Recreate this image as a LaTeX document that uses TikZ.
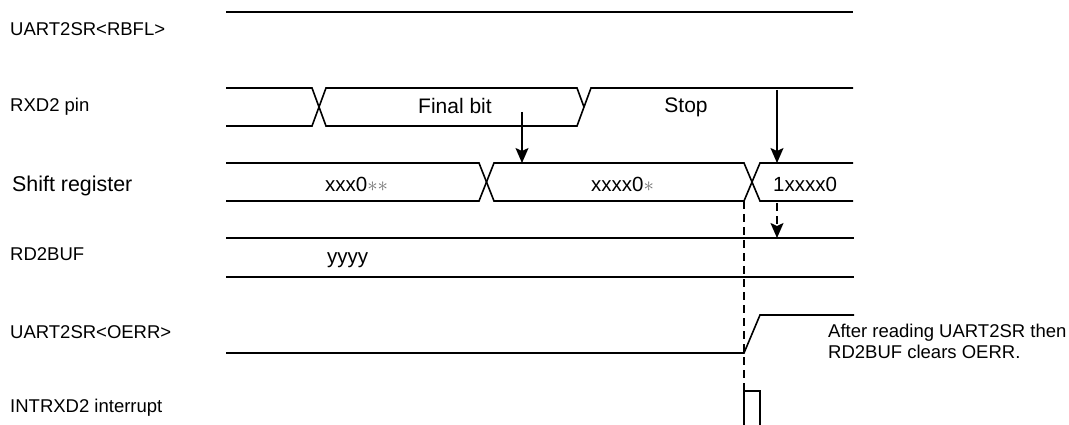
\documentclass[tikz,border=0pt]{standalone}
\usepackage{fontspec}
\setmainfont{Liberation Sans}
\usetikzlibrary{arrows.meta}

\begin{document}
\begin{tikzpicture}[
  x=1pt, y=-1pt,
  font=\fontsize{18.5}{21}\selectfont,
  every node/.style={inner sep=0pt},
  sig/.style={line width=1.6pt, line join=miter},
  guide/.style={line width=1.4pt, dash pattern=on 8pt off 5pt},
  lbl/.style={anchor=base west},
  val/.style={anchor=base west, font=\fontsize{20.5}{24}\selectfont},
  arr/.style={line width=1.6pt, -{Stealth[length=15pt,width=13pt,inset=3pt]}},
  dasharr/.style={arr, dash pattern=on 8pt off 5pt},
]
\useasboundingbox (0,0) rectangle (1069,425);

% ── Row y-positions (top / bottom of each trace) ───────────────────
\def\yRb{12}
\def\yRxT{88}   \def\yRxB{126}
\def\ySrT{163}  \def\ySrB{201}
\def\yBfT{238}  \def\yBfB{277}
\def\yOeH{315}  \def\yOeL{353}
\def\yIntT{391} \def\yIntB{425}

% ── Column x-positions ─────────────────────────────────────────────
\def\xL{226}
\def\xR{853}
\def\xE{744}   % end of stop bit, overrun point
\def\xF{760}

% ── Signal names (left column) ─────────────────────────────────────
\node[lbl] (nRbfl) at (10,36)  {UART2SR<RBFL>};
\node[lbl] (nRxd)  at (10,112) {RXD2 pin};
\node[lbl, font=\fontsize{21.4}{24}\selectfont] (nShift) at (12,192) {Shift register};
\node[lbl] (nBuf)  at (10,260) {RD2BUF};
\node[lbl] (nOerr) at (10,338) {UART2SR<OERR>};
\node[lbl] (nInt)  at (10,412) {INTRXD2 interrupt};

% ── UART2SR<RBFL> ──────────────────────────────────────────────────
\draw[sig] (\xL,\yRb) -- (\xR,\yRb);

% ── RXD2 pin ───────────────────────────────────────────────────────
\draw[sig] (\xL,\yRxT) -- (312,\yRxT) -- (326,\yRxB) -- (577,\yRxB)
  -- (591,\yRxT) -- (\xR,\yRxT);
\draw[sig] (\xL,\yRxB) -- (312,\yRxB) -- (326,\yRxT) -- (577,\yRxT)
  -- (584,107);
\node[anchor=base, font=\fontsize{21}{24}\selectfont] (tFinal) at (455,114) {Final bit};
\node[anchor=base, font=\fontsize{21}{24}\selectfont] (tStop)  at (686,113) {Stop};

% ── Shift register ─────────────────────────────────────────────────
\draw[sig] (\xL,\ySrT) -- (479,\ySrT) -- (494,\ySrB) -- (\xE,\ySrB)
  -- (\xF,\ySrT) -- (\xR,\ySrT);
\draw[sig] (\xL,\ySrB) -- (479,\ySrB) -- (494,\ySrT) -- (\xE,\ySrT)
  -- (\xF,\ySrB) -- (\xR,\ySrB);
\node[val] (sOld)  at (325,192) {xxx0{\color{black!55}$\ast\ast$}};
\node[val] (sMid)  at (591,192) {xxxx0{\color{black!55}$\ast$}};
\node[val] (sNew)  at (773,192) {1xxxx0};

% ── RD2BUF ─────────────────────────────────────────────────────────
\draw[sig] (\xL,\yBfT) -- (854,\yBfT);
\draw[sig] (\xL,\yBfB) -- (854,\yBfB);
\node[val] (bOld) at (327,263) {yyyy};

% ── UART2SR<OERR> ──────────────────────────────────────────────────
\draw[sig] (\xL,\yOeL) -- (\xE,\yOeL) -- (\xF,\yOeH) -- (854,\yOeH);
% multi-line node: base is the last line's baseline
\node[anchor=base west, align=left, font=\fontsize{18.5}{21}\selectfont]
  (note) at (828,358) {After reading UART2SR then\\RD2BUF clears OERR.};

% ── INTRXD2 interrupt ──────────────────────────────────────────────
\draw[sig] (\xE,\yIntB) -- (\xE,\yIntT) -- (\xF,\yIntT) -- (\xF,\yIntB);

% ── Sampling arrows ────────────────────────────────────────────────
\coordinate (aFinS) at (522,112);
\coordinate (aFinE) at (522,\ySrT);
\coordinate (aStpS) at (777,90);
\coordinate (aStpE) at (777,\ySrT);
\coordinate (aBufS) at (777,203);
\coordinate (aBufE) at (777,\yBfT);
\draw[arr] (aFinS) -- (aFinE);
\draw[arr] (aStpS) -- (aStpE);
\draw[dasharr] (aBufS) -- (aBufE);

% ── Overrun guide line ─────────────────────────────────────────────
\coordinate (gTop) at (\xE,\ySrB);
\coordinate (gBot) at (\xE,\yIntT);
\draw[guide] (gTop) -- (gBot);

\end{tikzpicture}
\end{document}
